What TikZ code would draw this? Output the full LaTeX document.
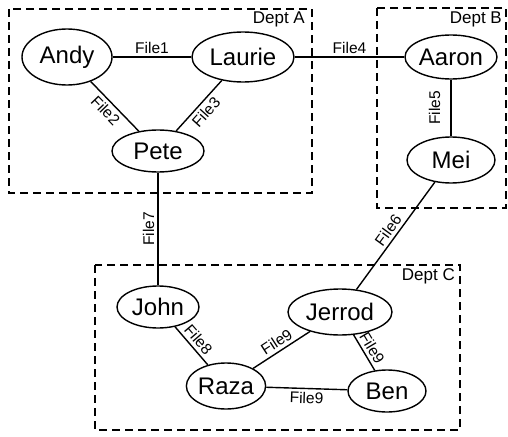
\documentclass[tikz,border=0pt]{standalone}
\usepackage{fontspec}
\setmainfont{Liberation Sans}
\usetikzlibrary{shapes.geometric}
\begin{document}
\begin{tikzpicture}[x=1pt,y=-1pt,
  person/.style={ellipse,draw,line width=1.4pt,inner sep=0pt,font=\fontsize{24}{28}\selectfont},
  link/.style={line width=1.4pt},
  lbl/.style={font=\fontsize{15.5}{18}\selectfont,sloped,inner sep=3pt},
  dept/.style={draw,line width=1.8pt,dash pattern=on 8pt off 5pt},
  deptlbl/.style={font=\fontsize{17}{20}\selectfont,anchor=north east,inner sep=2pt}]
\useasboundingbox (0,0) rectangle (508,436);

% department boxes
\draw[dept] (9,9) rectangle (312,193);
\draw[dept] (377,8) rectangle (506,208);
\draw[dept] (95,265) rectangle (460,430);
\node[deptlbl] (la) at (307,10) {Dept A};
\node[deptlbl] (lb) at (504,10) {Dept B};
\node[deptlbl] (lc) at (457,266) {Dept C};

% people
\node[person,minimum width=90pt,minimum height=56pt] (andy) at (67,57) {Andy};
\node[person,minimum width=102pt,minimum height=50pt] (laurie) at (243,57) {Laurie};
\node[person,minimum width=92pt,minimum height=42pt] (pete) at (158,151) {Pete};
\node[person,minimum width=92pt,minimum height=44pt] (aaron) at (451,57) {Aaron};
\node[person,minimum width=88pt,minimum height=46pt] (mei) at (451,160) {Mei};
\node[person,minimum width=82pt,minimum height=42pt] (john) at (158,307) {John};
\node[person,minimum width=104pt,minimum height=46pt] (jerrod) at (340,312) {Jerrod};
\node[person,minimum width=78pt,minimum height=46pt] (raza) at (226,386) {Raza};
\node[person,minimum width=78pt,minimum height=42pt] (ben) at (387,391) {Ben};

% files
\draw[link] (andy) -- node[lbl,above] {File1} (laurie);
\draw[link] (andy) -- node[lbl,below,pos=0.45] {File2} (pete);
\draw[link] (pete) -- node[lbl,below] {File3} (laurie);
\draw[link] (laurie) -- node[lbl,above] {File4} (aaron);
\draw[link] (mei) -- node[lbl,above=7pt] {File5} (aaron);
\draw[link] (jerrod) -- node[lbl,above] {File6} (mei);
\draw[link] (john) -- node[lbl,above] {File7} (pete);
\draw[link] (john) -- node[lbl,above] {File8} (raza);
\draw[link] (raza) -- node[lbl,above] {File9} (jerrod);
\draw[link] (jerrod) -- node[lbl,above] {File9} (ben);
\draw[link] (raza) -- node[lbl,below] {File9} (ben);
\end{tikzpicture}
\end{document}
